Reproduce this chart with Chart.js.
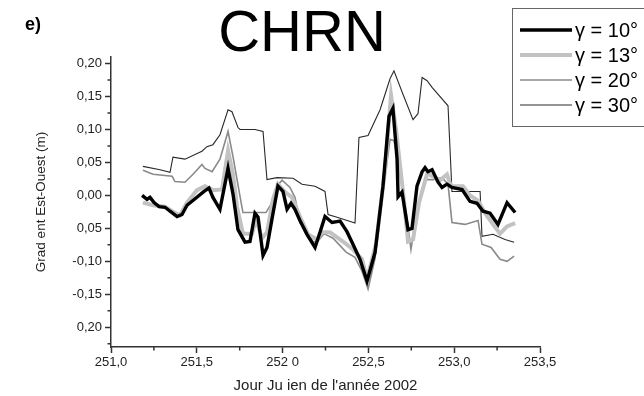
<!DOCTYPE html>
<html>
<head>
<meta charset="utf-8">
<script src="https://cdn.jsdelivr.net/npm/chart.js@4.4.1/dist/chart.umd.min.js"></script>
<style>
  html, body { margin: 0; padding: 0; background: #fff; overflow: hidden; }
  canvas { display: block; }
</style>
</head>
<body>
<canvas id="c" width="644" height="396"></canvas>
<script>
// Station and panel
const panelTag = 'e)';
const stationName = 'CHRN';

// East-West gradient (m) versus Julian day, for four elevation cut-offs
const seriesNames = ['γ = 10°', 'γ = 13°', 'γ = 20°', 'γ = 30°'];

const day10 = [251.181,251.210,251.227,251.251,251.280,251.315,251.344,251.385,251.414,251.443,251.490,251.542,251.571,251.594,251.635,251.682,251.711,251.740,251.781,251.810,251.839,251.857,251.886,251.909,251.938,251.973,252.002,252.026,252.049,252.072,252.101,252.142,252.189,252.218,252.247,252.288,252.335,252.375,252.410,252.451,252.492,252.539,252.585,252.620,252.643,252.667,252.673,252.696,252.731,252.754,252.783,252.813,252.830,252.847,252.871,252.906,252.929,252.958,252.987,253.046,253.092,253.133,253.168,253.209,253.255,253.308,253.355];
const grad10 = [0.000,-0.006,-0.003,-0.011,-0.017,-0.018,-0.024,-0.032,-0.029,-0.015,-0.005,0.006,0.011,-0.003,-0.021,0.041,0.002,-0.052,-0.071,-0.070,-0.027,-0.033,-0.091,-0.079,-0.036,0.014,0.006,-0.021,-0.012,-0.021,-0.038,-0.059,-0.079,-0.056,-0.032,-0.041,-0.039,-0.055,-0.074,-0.097,-0.130,-0.086,0.014,0.120,0.132,0.055,-0.002,0.005,-0.052,-0.050,0.014,0.036,0.042,0.036,0.039,0.020,0.012,0.017,0.012,0.009,-0.009,-0.012,-0.024,-0.027,-0.044,-0.011,-0.026];

const day13 = [251.186,251.245,251.315,251.356,251.402,251.443,251.501,251.548,251.594,251.647,251.682,251.711,251.734,251.769,251.822,251.845,251.880,251.909,251.944,251.973,252.014,252.055,252.101,252.148,252.201,252.230,252.276,252.352,252.410,252.463,252.492,252.544,252.597,252.632,252.661,252.702,252.731,252.760,252.795,252.842,252.877,252.917,252.958,252.981,253.051,253.092,253.139,253.185,253.226,253.267,253.308,253.355];
const grad13 = [-0.011,-0.015,-0.017,-0.024,-0.030,-0.011,0.008,0.014,0.008,0.009,0.068,0.032,-0.017,-0.058,-0.058,-0.036,-0.065,-0.056,-0.006,0.017,0.005,-0.003,-0.032,-0.059,-0.067,-0.056,-0.056,-0.070,-0.082,-0.097,-0.127,-0.074,0.039,0.152,0.100,0.005,-0.070,-0.067,-0.011,0.033,0.029,0.023,0.032,0.014,0.014,0.000,-0.008,-0.029,-0.044,-0.058,-0.047,-0.042];

const day20 = [251.186,251.245,251.356,251.373,251.431,251.478,251.530,251.548,251.589,251.635,251.682,251.711,251.752,251.769,251.903,251.938,251.967,251.997,252.043,252.072,252.101,252.177,252.201,252.241,252.294,252.370,252.422,252.463,252.498,252.539,252.585,252.626,252.649,252.684,252.731,252.748,252.789,252.830,252.877,252.929,252.964,252.987,253.063,253.139,253.162,253.215,253.267,253.308,253.349];
const grad20 = [0.038,0.032,0.029,0.021,0.020,0.032,0.047,0.041,0.036,0.055,0.097,0.059,-0.002,-0.026,-0.026,-0.011,0.014,0.023,0.012,-0.003,-0.041,-0.070,-0.071,-0.058,-0.065,-0.086,-0.094,-0.115,-0.142,-0.095,0.005,0.085,0.083,0.035,-0.047,-0.082,-0.014,0.024,0.024,0.027,0.017,-0.041,-0.044,-0.038,-0.074,-0.079,-0.097,-0.100,-0.092];

const day30 = [251.186,251.286,251.344,251.361,251.431,251.530,251.559,251.594,251.635,251.682,251.705,251.740,251.752,251.839,251.886,251.909,251.967,252.061,252.113,252.189,252.247,252.265,252.317,252.422,252.445,252.498,252.568,252.626,252.649,252.702,252.760,252.789,252.813,252.842,252.871,252.964,252.987,253.063,253.151,253.162,253.226,253.296,253.349];
const grad30 = [0.044,0.039,0.035,0.058,0.055,0.067,0.074,0.077,0.092,0.130,0.127,0.103,0.100,0.100,0.097,0.024,0.027,0.026,0.017,0.014,0.006,-0.029,-0.033,-0.042,0.088,0.091,0.130,0.177,0.189,0.153,0.115,0.124,0.179,0.174,0.164,0.136,0.006,0.006,0.006,-0.062,-0.059,-0.067,-0.071];

// Axis ticks and their printed labels
const xTickValues = [251.0, 251.5, 252.0, 252.5, 253.0, 253.5];
const xTickLabels = ['251,0', '251,5', '252 0', '252,5', '253,0', '253,5'];
const yTickValues = [-0.20, -0.15, -0.10, -0.05, 0.00, 0.05, 0.10, 0.15, 0.20];
const yTickLabels = ['0,20', '-0,15', '-0,10', '0,05', '0,00', '0,05', '0,10', '0,15', '0,20'];
const xTitle = "Jour Ju ien de l'année 2002";
const yTitle = 'Grad ent Est-Ouest (m)';

const FONT = '"Liberation Sans", Arial, Helvetica, sans-serif';
const toPoints = (days, vals) => days.map((d, i) => ({ x: d, y: vals[i] }));

const lineStyles = [
  { color: '#000000', width: 3.4 },
  { color: '#c2c2c2', width: 4 },
  { color: '#8a8a8a', width: 1.6 },
  { color: '#2a2a2a', width: 1.1 }
];
const seriesData = [toPoints(day10, grad10), toPoints(day13, grad13), toPoints(day20, grad20), toPoints(day30, grad30)];

// Minor ticks, panel tag, title and the boxed legend
const decorations = {
  id: 'decorations',
  afterDraw(chart) {
    const { ctx, scales: { x, y }, chartArea: a } = chart;
    ctx.save();
    ctx.strokeStyle = '#333';
    ctx.lineWidth = 1.5;
    ctx.beginPath();
    for (let k = 0; k < yTickValues.length; k++) {
      const v = yTickValues[k] - 0.025;
      if (v < y.min) continue;
      const py = y.getPixelForValue(v);
      ctx.moveTo(a.left - 3.5, py); ctx.lineTo(a.left, py);
    }
    {
      const v = yTickValues[yTickValues.length - 1] + 0.025;
      if (v <= y.max) { const py = y.getPixelForValue(v); ctx.moveTo(a.left - 3.5, py); ctx.lineTo(a.left, py); }
    }
    for (let k = 0; k < xTickValues.length - 1; k++) {
      const px = x.getPixelForValue((xTickValues[k] + xTickValues[k + 1]) / 2);
      ctx.moveTo(px, a.bottom); ctx.lineTo(px, a.bottom + 3.5);
    }
    ctx.stroke();

    ctx.fillStyle = '#000';
    ctx.textBaseline = 'alphabetic';
    ctx.textAlign = 'left';
    ctx.font = 'bold 18px ' + FONT;
    ctx.fillText(panelTag, 25, 30);
    ctx.textAlign = 'center';
    ctx.font = '58px ' + FONT;
    ctx.fillText(stationName, 302, 51);

    // legend
    const lx = 512, ly = 8, lw = 140, lh = 118, row = 25;
    ctx.strokeStyle = '#666';
    ctx.lineWidth = 1;
    ctx.strokeRect(lx + 0.5, ly + 0.5, lw, lh);
    ctx.textAlign = 'left';
    ctx.textBaseline = 'middle';
    ctx.font = '20px ' + FONT;
    chart.data.datasets.forEach((ds, i) => {
      const cy = ly + 22 + i * row;
      ctx.strokeStyle = ds.borderColor;
      ctx.lineWidth = ds.borderWidth;
      ctx.beginPath(); ctx.moveTo(520, cy); ctx.lineTo(572, cy); ctx.stroke();
      ctx.fillStyle = '#000';
      ctx.fillText(ds.label, 575, cy + 1);
    });
    ctx.restore();
  }
};

new Chart(document.getElementById('c'), {
  type: 'line',
  data: {
    datasets: seriesData.map((pts, i) => ({
      label: seriesNames[i],
      data: pts,
      borderColor: lineStyles[i].color,
      borderWidth: lineStyles[i].width,
      pointRadius: 0,
      tension: 0,
      fill: false,
      order: i
    }))
  },
  options: {
    responsive: false,
    animation: false,
    devicePixelRatio: 1,
    layout: { padding: { left: 0, right: 104, top: 57, bottom: 0 } },
    plugins: { legend: { display: false }, title: { display: false }, tooltip: { enabled: false } },
    scales: {
      x: {
        type: 'linear',
        min: 251.0,
        max: 253.5,
        afterBuildTicks: s => { s.ticks = xTickValues.map(v => ({ value: v })); },
        afterFit: s => { s.height = 396 - 347; },
        ticks: {
          callback: (v, i) => xTickLabels[i],
          color: '#222',
          font: { family: FONT, size: 13 },
          padding: 2,
          maxRotation: 0,
          autoSkip: false
        },
        grid: { display: true, drawOnChartArea: false, drawTicks: true, tickLength: 6, tickWidth: 1.5, tickColor: '#333' },
        border: { display: true, color: '#333', width: 1.5 },
        title: { display: true, text: xTitle, color: '#222', font: { family: FONT, size: 15 }, padding: { top: 0, bottom: 1 } }
      },
      y: {
        type: 'linear',
        min: -0.23,
        max: 0.21,
        afterBuildTicks: s => { s.ticks = yTickValues.map(v => ({ value: v })); },
        afterFit: s => { s.width = 111; },
        ticks: {
          callback: (v, i) => yTickLabels[i],
          color: '#222',
          font: { family: FONT, size: 13 },
          padding: 3,
          autoSkip: false
        },
        grid: { display: true, drawOnChartArea: false, drawTicks: true, tickLength: 6, tickWidth: 1.5, tickColor: '#333' },
        border: { display: true, color: '#333', width: 1.5 },
        title: { display: true, text: yTitle, color: '#222', font: { family: FONT, size: 13.5 }, padding: { top: 33, bottom: 0 } }
      }
    }
  },
  plugins: [decorations]
});
</script>
</body>
</html>
